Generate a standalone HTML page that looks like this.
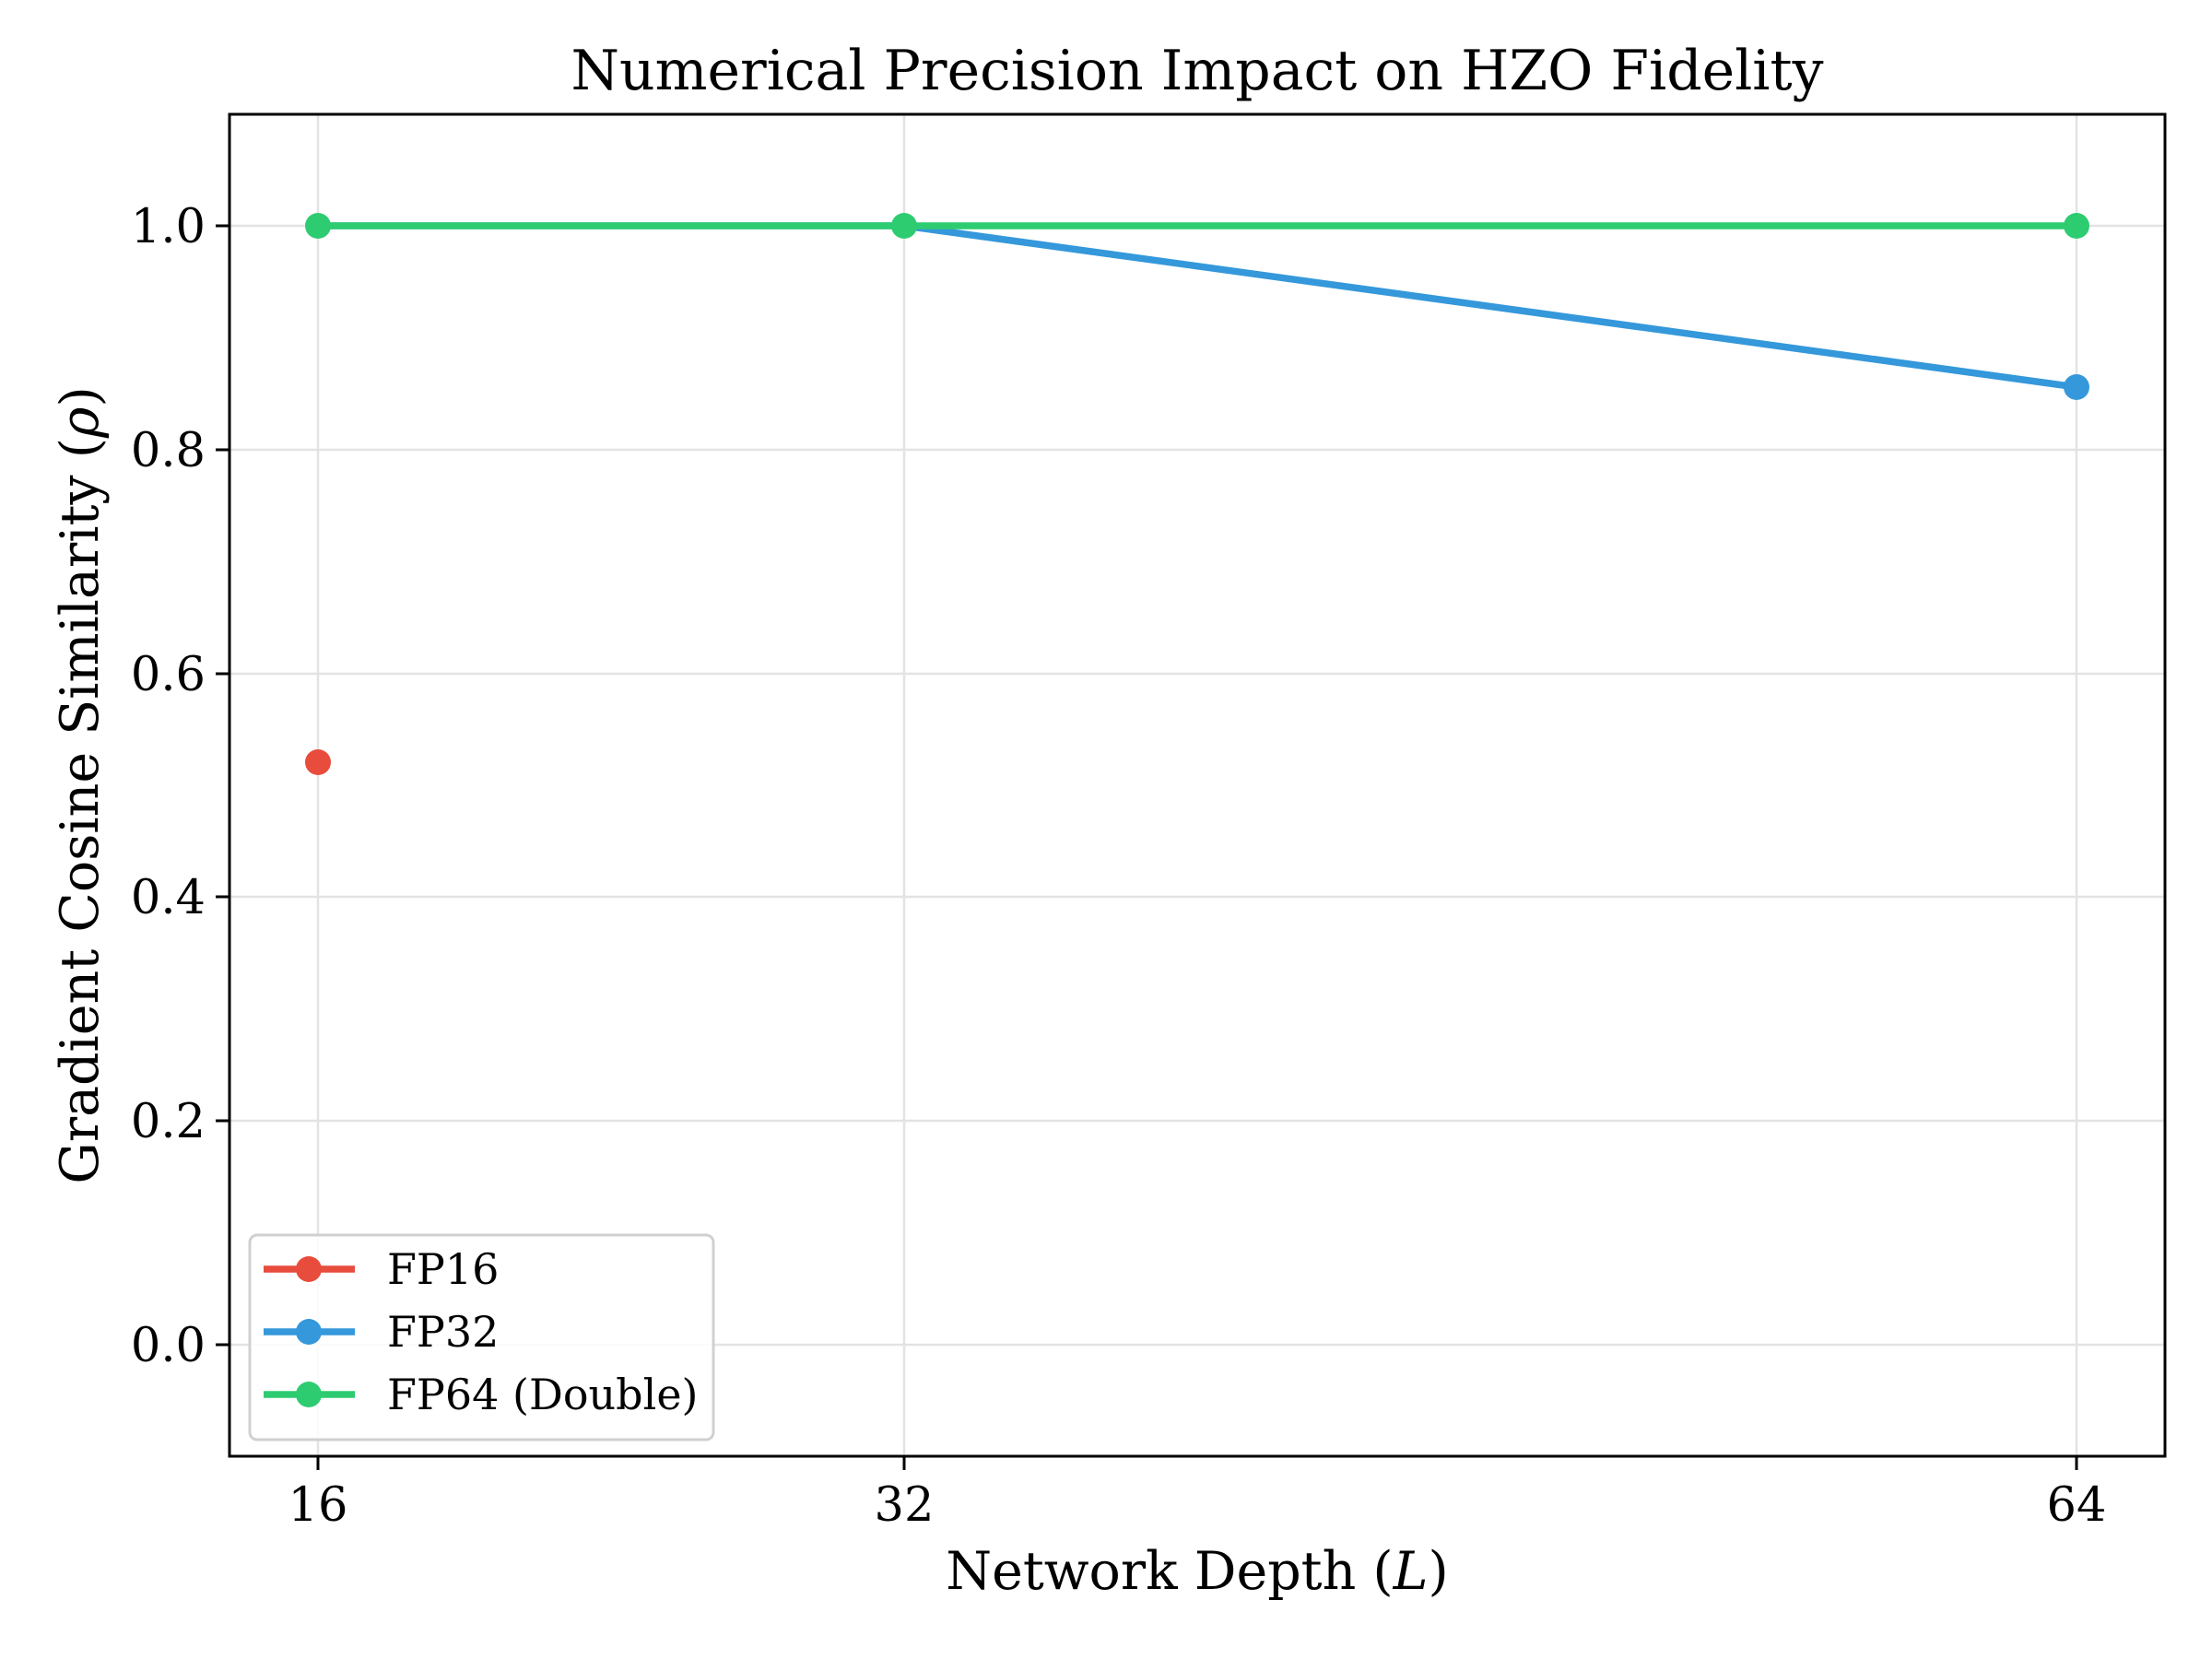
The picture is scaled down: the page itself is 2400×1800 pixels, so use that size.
<!DOCTYPE html>
<html><head><style>body{margin:0;background:#fff}svg{display:block}</style></head><body>
<svg width="2400" height="1800" xmlns="http://www.w3.org/2000/svg" font-family="DejaVu Serif, Liberation Serif, serif">
<rect width="2400" height="1800" fill="#fff"/>
<g stroke="#e3e3e3" stroke-width="2.5">
<line x1="345" y1="124" x2="345" y2="1580"/><line x1="981" y1="124" x2="981" y2="1580"/><line x1="2253" y1="124" x2="2253" y2="1580"/>
<line x1="249" y1="245" x2="2349" y2="245"/><line x1="249" y1="488" x2="2349" y2="488"/><line x1="249" y1="731" x2="2349" y2="731"/><line x1="249" y1="973" x2="2349" y2="973"/><line x1="249" y1="1216" x2="2349" y2="1216"/><line x1="249" y1="1459" x2="2349" y2="1459"/>
</g>
<polyline points="345,245 981,245 2253,420" fill="none" stroke="#3498db" stroke-width="7.5"/>
<circle cx="2253" cy="420" r="14" fill="#3498db"/>
<polyline points="345,245 981,245 2253,245" fill="none" stroke="#2ecc71" stroke-width="7.5"/>
<g fill="#2ecc71"><circle cx="345" cy="245" r="14"/><circle cx="981" cy="245" r="14"/><circle cx="2253" cy="245" r="14"/></g>
<circle cx="345" cy="827" r="14" fill="#e74c3c"/>
<rect x="249" y="124" width="2100" height="1456" fill="none" stroke="#000" stroke-width="3"/>
<g stroke="#000" stroke-width="3">
<line x1="345" y1="1580" x2="345" y2="1595"/><line x1="981" y1="1580" x2="981" y2="1595"/><line x1="2253" y1="1580" x2="2253" y2="1595"/>
<line x1="234" y1="245" x2="249" y2="245"/><line x1="234" y1="488" x2="249" y2="488"/><line x1="234" y1="731" x2="249" y2="731"/><line x1="234" y1="973" x2="249" y2="973"/><line x1="234" y1="1216" x2="249" y2="1216"/><line x1="234" y1="1459" x2="249" y2="1459"/>
</g>
<g font-size="51" text-anchor="middle" fill="#000">
<text x="345" y="1650">16</text><text x="981" y="1650">32</text><text x="2253" y="1650">64</text>
</g>
<g font-size="51" text-anchor="end" fill="#000">
<text x="223" y="263">1.0</text><text x="223" y="506">0.8</text><text x="223" y="749">0.6</text><text x="223" y="991">0.4</text><text x="223" y="1234">0.2</text><text x="223" y="1477">0.0</text>
</g>
<text x="1299" y="97" font-size="60" text-anchor="middle">Numerical Precision Impact on HZO Fidelity</text>
<text x="1299" y="1724" font-size="57" text-anchor="middle">Network Depth (<tspan font-style="italic">L</tspan>)</text>
<text transform="translate(106,852) rotate(-90)" font-size="57" text-anchor="middle">Gradient Cosine Similarity (<tspan font-style="italic">ρ</tspan>)</text>
<rect x="271" y="1340" width="503" height="222" rx="8" fill="#fff" fill-opacity="0.85" stroke="#d0d0d0" stroke-width="3"/>
<g stroke-width="7.5">
<line x1="286" y1="1377" x2="385" y2="1377" stroke="#e74c3c"/><circle cx="335" cy="1377" r="14" fill="#e74c3c"/>
<line x1="286" y1="1445" x2="385" y2="1445" stroke="#3498db"/><circle cx="335" cy="1445" r="14" fill="#3498db"/>
<line x1="286" y1="1513" x2="385" y2="1513" stroke="#2ecc71"/><circle cx="335" cy="1513" r="14" fill="#2ecc71"/>
</g>
<g font-size="46" fill="#000">
<text x="420" y="1393">FP16</text><text x="420" y="1461">FP32</text><text x="420" y="1529">FP64 (Double)</text>
</g>
</svg>
</body></html>
